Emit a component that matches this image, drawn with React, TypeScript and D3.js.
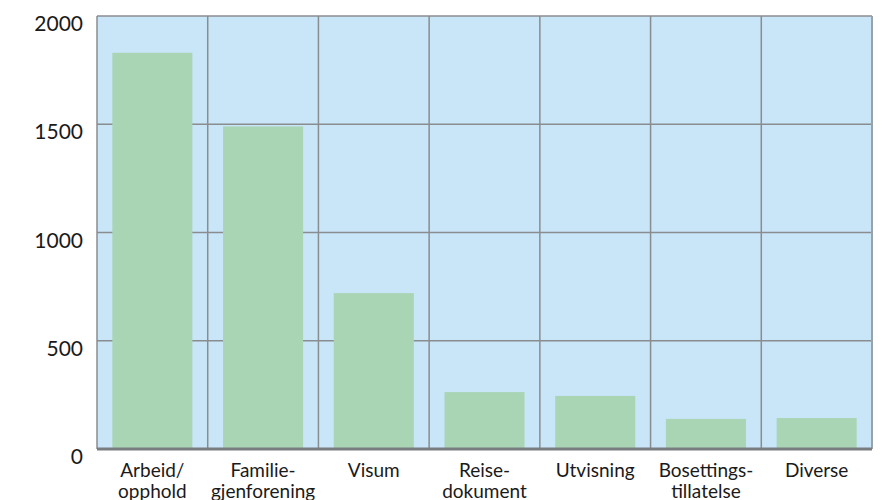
import React from "react";
import * as d3 from "d3";

const categories: string[][] = [
  ["Arbeid/", "opphold"],
  ["Familie-", "gjenforening"],
  ["Visum"],
  ["Reise-", "dokument"],
  ["Utvisning"],
  ["Bosettings-", "tillatelse"],
  ["Diverse"],
];
const values: number[] = [1830, 1490, 720, 263, 245, 139, 143];
const yTicks: number[] = [0, 500, 1000, 1500, 2000];

const W = 893;
const H = 500;
const left = 97;
const right = 872;
const top = 16;
const bottom = 449;

export default function App() {
  const ids = categories.map((_, i) => String(i));
  const x = d3.scaleBand<string>().domain(ids).range([left, right]).paddingInner(0.277).paddingOuter(0.1385);
  const xb = d3.scaleBand<string>().domain(ids).range([left, right]);
  const y = d3.scaleLinear().domain([0, 2000]).range([bottom, top]);
  const font = "Lato, 'Noto Sans', sans-serif";
  return (
    <svg width={W} height={H} style={{ position: "absolute", left: 0, top: 0 }}>
      <rect x={left} y={top} width={right - left} height={bottom - top} fill="#c9e5f8" />
      {yTicks.map((t) => (
        <line key={"h" + t} x1={left} x2={right} y1={y(t)} y2={y(t)} stroke="#8a8d90" strokeWidth={1.5} />
      ))}
      {ids.map((id, i) => (
        <line key={"v" + id} x1={xb(id)!} x2={xb(id)!} y1={top} y2={bottom} stroke="#8a8d90" strokeWidth={1.5} />
      ))}
      <line x1={right} x2={right} y1={top} y2={bottom} stroke="#9aa3aa" strokeWidth={2} />
      {values.map((v, i) => (
        <rect key={"b" + i} x={x(String(i))!} y={y(v)} width={x.bandwidth()} height={bottom - y(v)} fill="#a9d5b5" />
      ))}
      <line x1={left} x2={right} y1={bottom} y2={bottom} stroke="#7a7d80" strokeWidth={3} />
      {yTicks.map((t) => (
        <text key={"t" + t} x={83} y={y(t) + 15} textAnchor="end" fontFamily={font} fontSize={21} fill="#1a1a1a">
          {t}
        </text>
      ))}
      {categories.map((lines, i) => (
        <text key={"c" + i} textAnchor="middle" fontFamily={font} fontSize={19} fill="#1a1a1a">
          {lines.map((l, j) => (
            <tspan key={j} x={xb(String(i))! + xb.bandwidth() / 2} y={477 + j * 21}>
              {l}
            </tspan>
          ))}
        </text>
      ))}
    </svg>
  );
}
